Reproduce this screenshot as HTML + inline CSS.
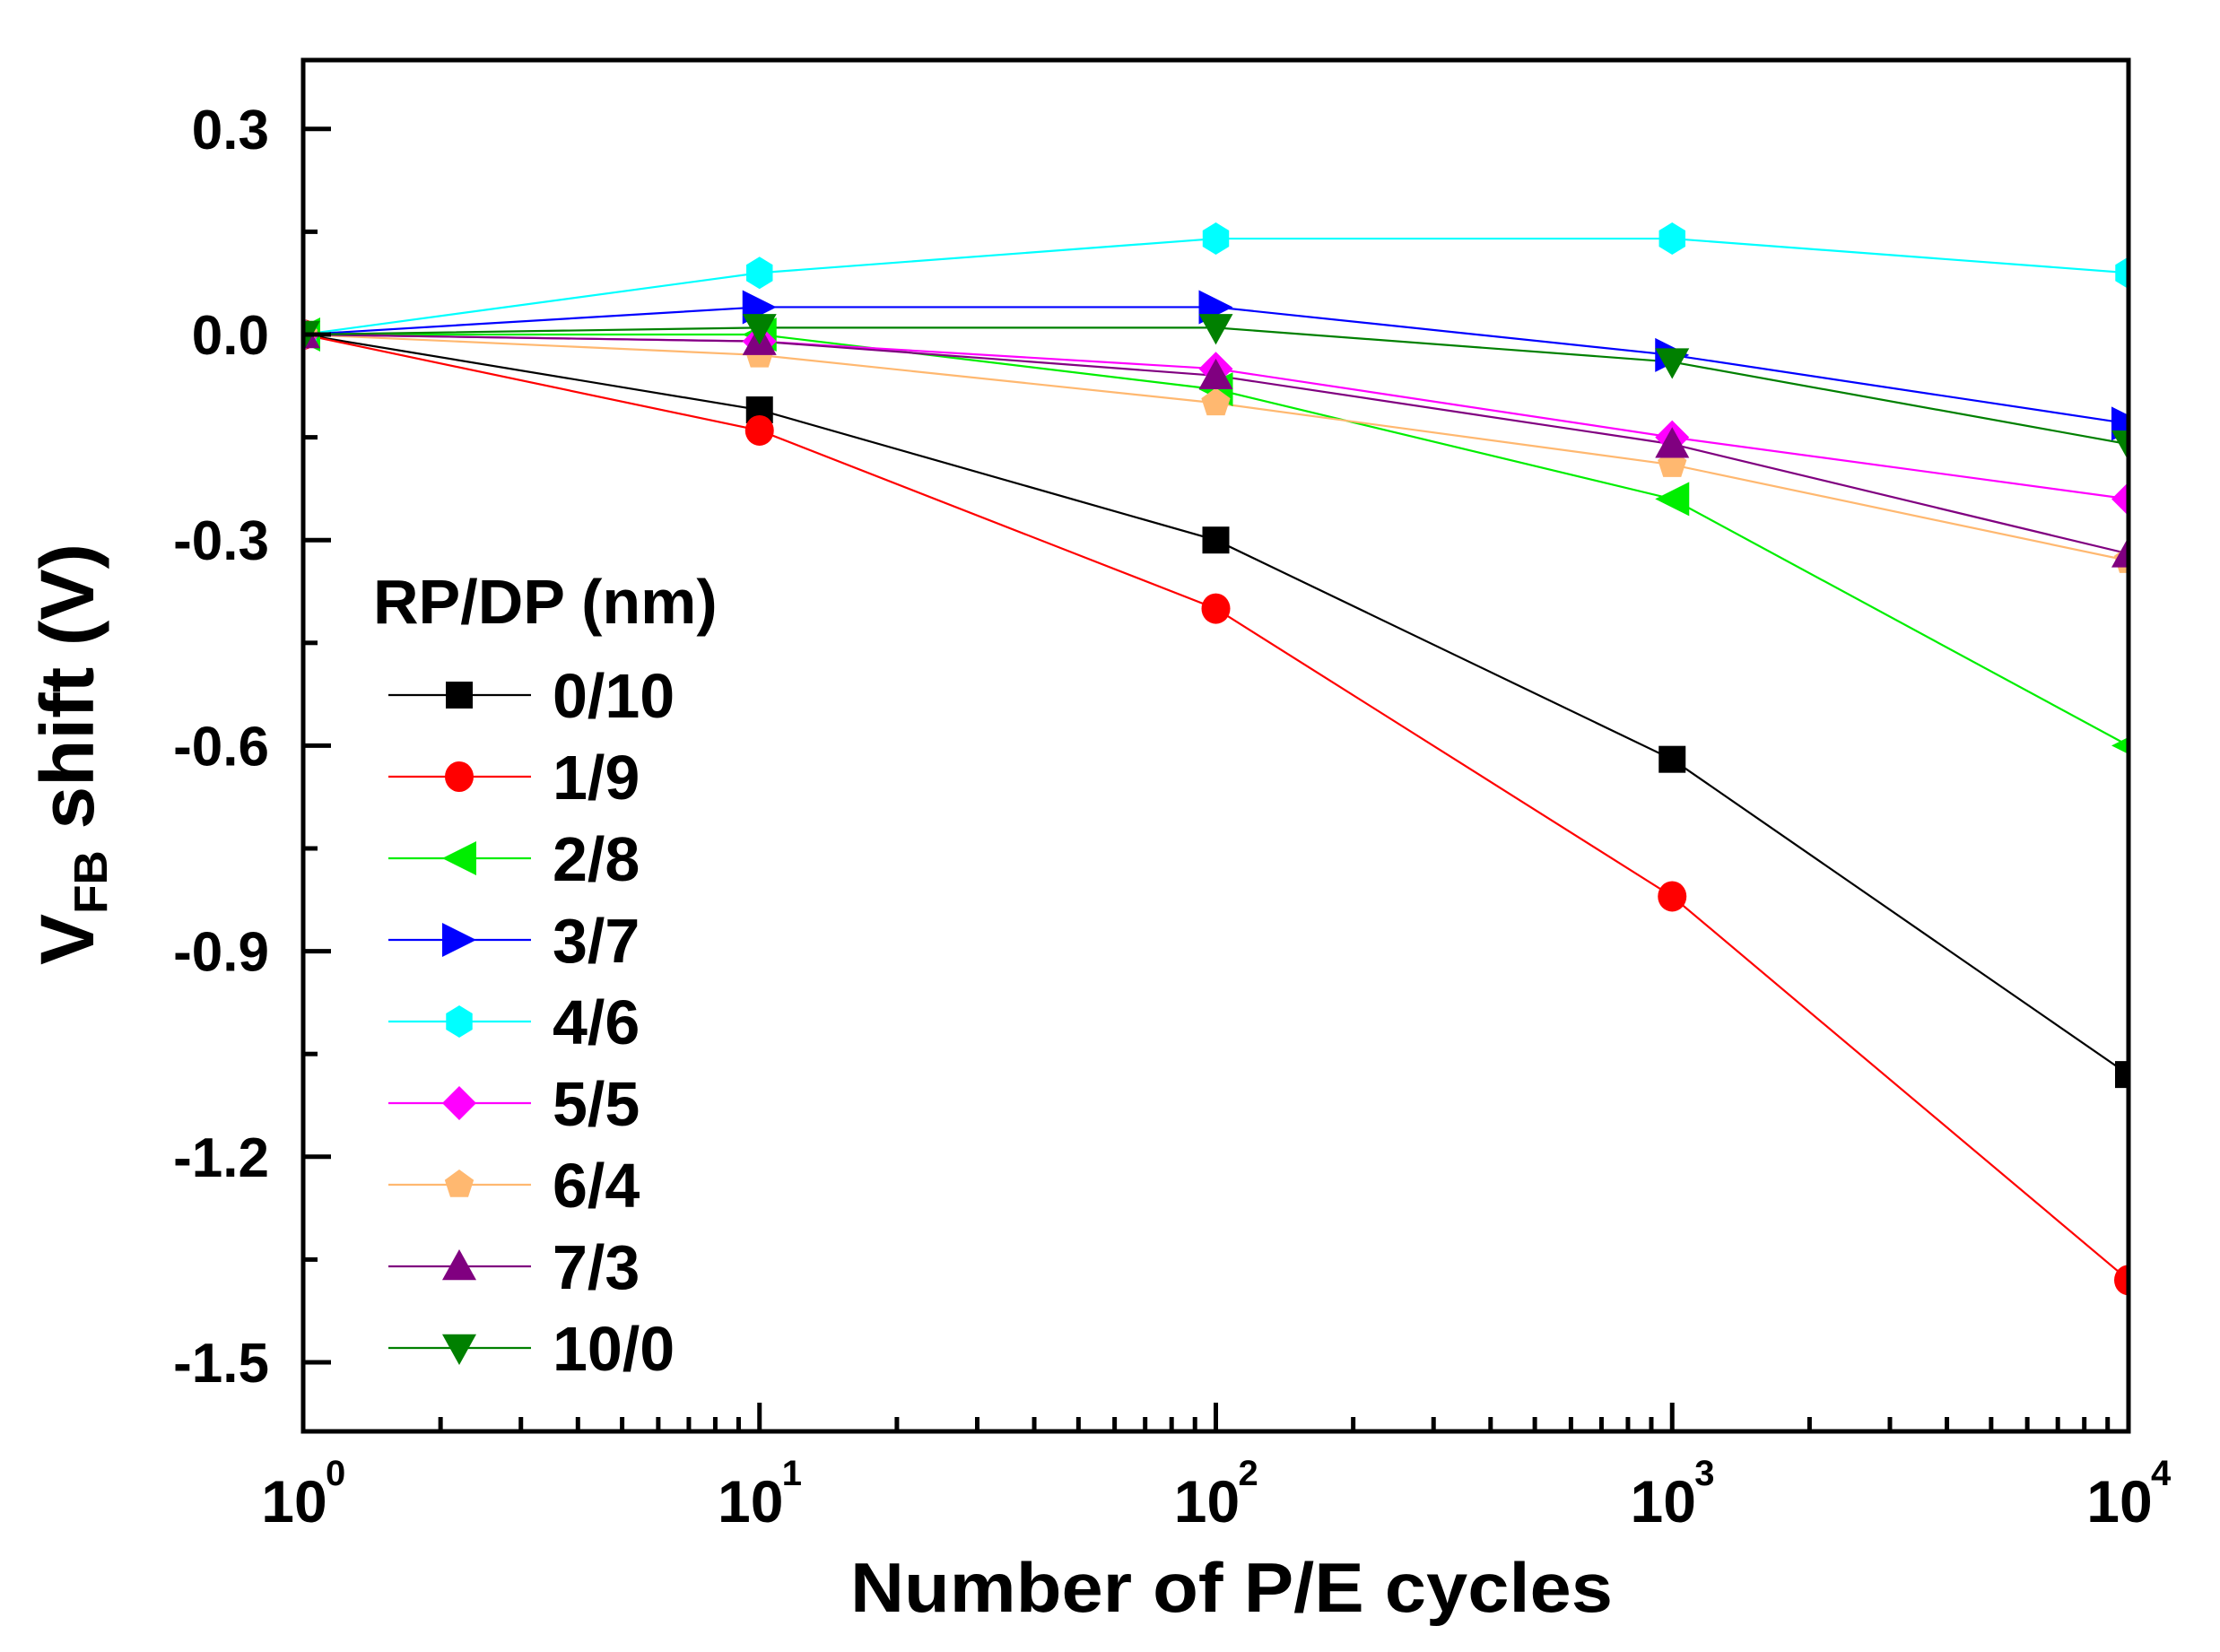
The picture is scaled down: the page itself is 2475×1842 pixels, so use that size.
<!DOCTYPE html>
<html><head><meta charset="utf-8"><style>
html,body{margin:0;padding:0;background:#fff;}
svg{display:block;font-family:"Liberation Sans",Arial,sans-serif;font-weight:bold;}
</style></head><body>
<svg id="s" width="2475" height="1842" viewBox="0 0 2475 1842" xmlns="http://www.w3.org/2000/svg">
<defs><clipPath id="c"><rect x="338" y="67" width="2035" height="1529"/></clipPath></defs>
<g id="plot" clip-path="url(#c)"></g>
<g id="axes"></g>
<g id="leg"></g>
<text x="1373" y="1797" font-size="78" text-anchor="middle" textLength="850" lengthAdjust="spacingAndGlyphs">Number of P/E cycles</text>
<text transform="translate(104,841) rotate(-90)" font-size="84" text-anchor="middle" textLength="470" lengthAdjust="spacingAndGlyphs">V<tspan font-size="52" dy="15">FB</tspan><tspan dy="-15"> shift (V)</tspan></text>
</svg>
<script>
const NS="http://www.w3.org/2000/svg";
const X0=338,X1=2373,Y0=67,Y1=1596;
const xp=d=>X0+(X1-X0)*d/4;
const yp=v=>373-v/0.3*229.2;
function el(p,t,a,txt){const e=document.createElementNS(NS,t);for(const k in a)e.setAttribute(k,a[k]);if(txt!==undefined)e.textContent=txt;p.appendChild(e);return e;}
const series=[
["#000000","sq",[0,-0.11,-0.30,-0.62,-1.08],"0/10"],
["#ff0000","ci",[0,-0.14,-0.40,-0.82,-1.38],"1/9"],
["#00ee00","lt",[0,0.0,-0.08,-0.24,-0.60],"2/8"],
["#0000ff","rt",[0,0.04,0.04,-0.03,-0.13],"3/7"],
["#00ffff","hx",[0,0.09,0.14,0.14,0.09],"4/6"],
["#ff00ff","di",[0,-0.01,-0.05,-0.15,-0.24],"5/5"],
["#ffb870","pe",[0,-0.03,-0.10,-0.19,-0.33],"6/4"],
["#800080","ut",[0,-0.01,-0.06,-0.16,-0.32],"7/3"],
["#008000","dt",[0,0.01,0.01,-0.04,-0.16],"10/0"]];
function marker(g,sh,x,y,c){
 const s=19;let pts;
 switch(sh){
 case"sq":el(g,"rect",{x:x-15,y:y-15,width:30,height:30,fill:c});return;
 case"ci":el(g,"ellipse",{cx:x,cy:y,rx:16,ry:17,fill:c});return;
 case"lt":pts=[[x-s,y],[x+s,y-s],[x+s,y+s]];break;
 case"rt":pts=[[x+s,y],[x-s,y-s],[x-s,y+s]];break;
 case"ut":pts=[[x,y-s],[x-s,y+s*0.8],[x+s,y+s*0.8]];break;
 case"dt":pts=[[x,y+s],[x-s,y-s*0.8],[x+s,y-s*0.8]];break;
 case"di":pts=[[x,y-s],[x+s,y],[x,y+s],[x-s,y]];break;
 case"hx":pts=[];for(let i=0;i<6;i++){const a=Math.PI/6+i*Math.PI/3;pts.push([x+17*Math.cos(a),y+18*Math.sin(a)]);}break;
 case"pe":pts=[];for(let i=0;i<5;i++){const a=-Math.PI/2+i*2*Math.PI/5;pts.push([x+17*Math.cos(a),y+17*Math.sin(a)]);}break;
 }
 el(g,"polygon",{points:pts.map(p=>p.join(",")).join(" "),fill:c});
}
const P=document.getElementById("plot");
series.forEach(s=>{el(P,"polyline",{points:s[2].map((v,i)=>xp(i)+","+yp(v)).join(" "),fill:"none",stroke:s[0],"stroke-width":2.2});});
series.forEach(s=>{s[2].forEach((v,i)=>marker(P,s[1],xp(i),yp(v),s[0]));});
const A=document.getElementById("axes");
el(A,"rect",{x:X0,y:Y0,width:X1-X0,height:Y1-Y0,fill:"none",stroke:"#000","stroke-width":5});
for(let k=-10;k<=2;k++){const v=k*0.15;const y=yp(v);const maj=(k%2===0);
 el(A,"line",{x1:X0,x2:X0+(maj?31:16),y1:y,y2:y,stroke:"#000","stroke-width":5});
 if(maj)el(A,"text",{x:300,y:y+22,"font-size":62,"text-anchor":"end"},(v===0?"0.0":v.toFixed(1)));}
for(let d=0;d<4;d++){for(let m=2;m<=9;m++){const x=X0+(X1-X0)/4*(d+Math.log10(m));el(A,"line",{x1:x,x2:x,y1:Y1,y2:Y1-16,stroke:"#000","stroke-width":5});}}
for(let d=0;d<=4;d++){const x=xp(d);if(d>0&&d<4)el(A,"line",{x1:x,x2:x,y1:Y1,y2:Y1-32,stroke:"#000","stroke-width":5});
 el(A,"text",{x:x-10,y:1697,"font-size":66,"text-anchor":"middle"},"10");
 el(A,"text",{x:x+25,y:1656,"font-size":40,"text-anchor":"start"},String(d));}
const L=document.getElementById("leg");
el(L,"text",{x:416,y:695,"font-size":70},"RP/DP (nm)");
series.forEach((s,i)=>{const y=775+i*91;
 el(L,"line",{x1:433,x2:592,y1:y,y2:y,stroke:s[0],"stroke-width":2.2});
 marker(L,s[1],512,y,s[0]);
 el(L,"text",{x:616,y:y+25,"font-size":70},s[3]);});
</script>
</body></html>
